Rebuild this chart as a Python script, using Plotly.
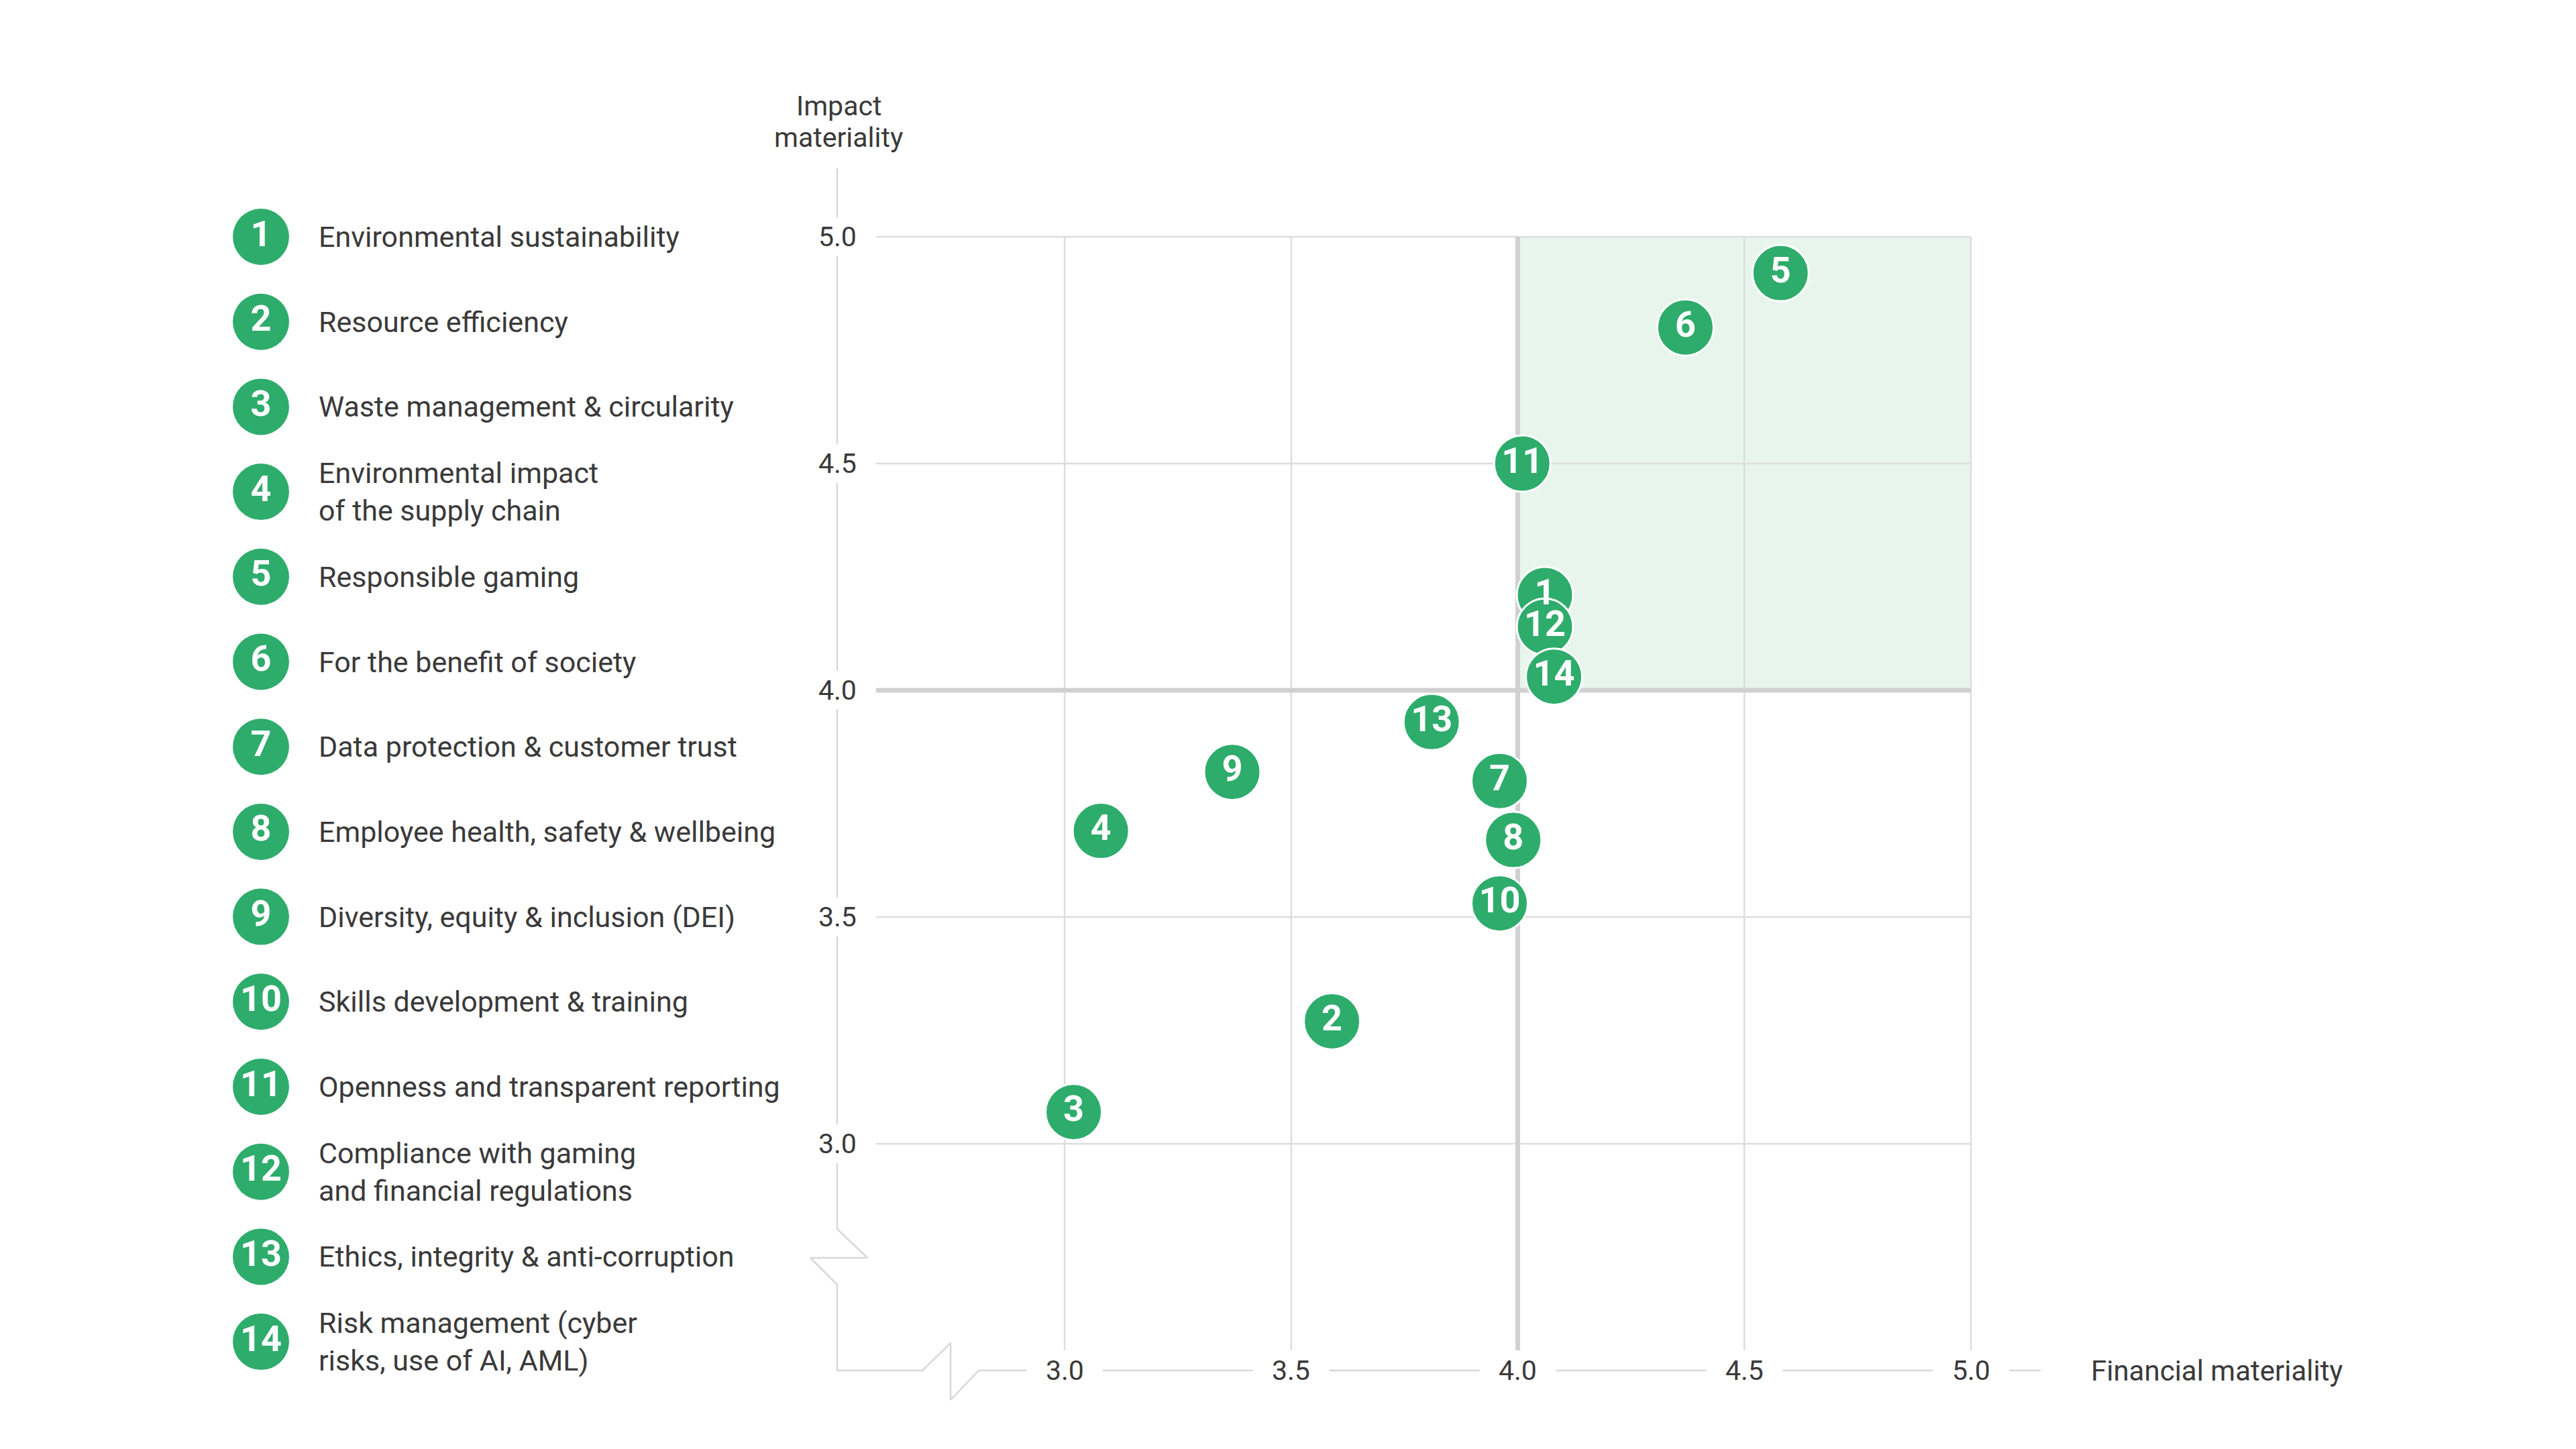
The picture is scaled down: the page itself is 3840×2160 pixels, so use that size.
import plotly.graph_objects as go

# ---------------- data ----------------
topic_ids = list(range(1, 15))
topic_labels = [
    "Environmental sustainability",
    "Resource efficiency",
    "Waste management & circularity",
    "Environmental impact<br>of the supply chain",
    "Responsible gaming",
    "For the benefit of society",
    "Data protection & customer trust",
    "Employee health, safety & wellbeing",
    "Diversity, equity & inclusion (DEI)",
    "Skills development & training",
    "Openness and transparent reporting",
    "Compliance with gaming<br>and financial regulations",
    "Ethics, integrity & anti-corruption",
    "Risk management (cyber<br>risks, use of AI, AML)",
]
financial_materiality = [4.06, 3.59, 3.02, 3.08, 4.58, 4.37, 3.96, 3.99, 3.37, 3.96, 4.01, 4.06, 3.81, 4.08]
impact_materiality = [4.21, 3.27, 3.07, 3.69, 4.92, 4.80, 3.80, 3.67, 3.82, 3.53, 4.50, 4.14, 3.93, 4.03]
tick_values = [3.0, 3.5, 4.0, 4.5, 5.0]
tick_labels = ["3.0", "3.5", "4.0", "4.5", "5.0"]
x_title = "Financial materiality"
y_title_lines = ["Impact", "materiality"]

# ---------------- layout helpers ----------------
W, H = 3840, 2160
PX_X3, PX_PER_X = 1587.0, 675.5
PX_Y3, PX_PER_Y = 1705.0, 676.0


def dx(px):
    return 3 + (px - PX_X3) / PX_PER_X


def dy(py):
    return 3 + (PX_Y3 - py) / PX_PER_Y


def pxx(v):
    return PX_X3 + (v - 3) * PX_PER_X


def pxy(v):
    return PX_Y3 - (v - 3) * PX_PER_Y


GREEN = "#2eac6c"
TEXT = "#3a3a3a"
GRID = "#dddddd"
THICK = "#d0d0d0"
AXIS = "#d8d8d8"
FONT = "Roboto"

fig = go.Figure()

shapes = []
# highlighted quadrant
shapes.append(dict(type="rect", xref="x", yref="y", x0=4, x1=5, y0=4, y1=5,
                   fillcolor="#e8f5ed", line=dict(width=0), layer="below"))
grid_bottom = dy(2013)
grid_left = dx(1306)
for t in tick_values:
    if t == 4.0:
        continue
    shapes.append(dict(type="line", xref="x", yref="y", x0=t, x1=t, y0=grid_bottom, y1=5,
                       line=dict(color=GRID, width=2.5), layer="below"))
    shapes.append(dict(type="line", xref="x", yref="y", x0=grid_left, x1=5, y0=t, y1=t,
                       line=dict(color=GRID, width=2.5), layer="below"))
# threshold lines
shapes.append(dict(type="line", xref="x", yref="y", x0=4, x1=4, y0=grid_bottom, y1=5,
                   line=dict(color=THICK, width=7), layer="below"))
shapes.append(dict(type="line", xref="x", yref="y", x0=grid_left, x1=5, y0=4, y1=4,
                   line=dict(color=THICK, width=7), layer="below"))

# axis lines with gaps around tick labels and break symbols
AX_X = 1248.0
AX_Y = 2043.0
ax_x, ax_y = [], []
ygap = 29
seg_start = 251.0
for t in sorted(tick_values, reverse=True):
    c = pxy(t)
    ax_x += [AX_X, AX_X, None]
    ax_y += [seg_start, c - ygap, None]
    seg_start = c + ygap
brk = [(AX_X, seg_start), (AX_X, 1832), (1293, 1875), (1208, 1875), (AX_X, 1915), (AX_X, AX_Y),
       (1375, AX_Y), (1417, 2002), (1417, 2087), (1459, AX_Y)]
for (px_, py_) in brk:
    ax_x.append(px_)
    ax_y.append(py_)
xgap = 57
for t in tick_values:
    c = pxx(t)
    ax_x += [c - xgap, None, c + xgap]
    ax_y += [AX_Y, None, AX_Y]
ax_x += [3042]
ax_y += [AX_Y]
fig.add_trace(go.Scatter(
    x=[dx(v) if v is not None else None for v in ax_x],
    y=[dy(v) if v is not None else None for v in ax_y],
    mode="lines", line=dict(color=AXIS, width=2.5), hoverinfo="skip", showlegend=False,
    connectgaps=False))

# data points
fig.add_trace(go.Scatter(
    x=financial_materiality, y=impact_materiality, mode="markers+text",
    text=[str(i) for i in topic_ids], textposition="middle center",
    textfont=dict(family=FONT, size=54, color="white", weight="bold"),
    marker=dict(size=84, color=GREEN, line=dict(color="white", width=3)),
    cliponaxis=False, hoverinfo="skip", showlegend=False))

# legend column
ROW0, ROW_STEP = 353.0, 126.7
legend_y = [dy(ROW0 + i * ROW_STEP) for i in range(len(topic_ids))]
fig.add_trace(go.Scatter(
    x=[dx(389)] * len(topic_ids), y=legend_y, mode="markers+text",
    text=[str(i) for i in topic_ids], textposition="middle center",
    textfont=dict(family=FONT, size=54, color="white", weight="bold"),
    marker=dict(size=84, color=GREEN, line=dict(width=0)),
    cliponaxis=False, hoverinfo="skip", showlegend=False))

annotations = []
for lab, yv in zip(topic_labels, legend_y):
    annotations.append(dict(x=dx(473), y=yv, xref="x", yref="y", text=lab, showarrow=False,
                            xanchor="left", yanchor="middle", align="left",
                            font=dict(family=FONT, size=43, color=TEXT)))
for t, lab in zip(tick_values, tick_labels):
    annotations.append(dict(x=dx(AX_X), y=t, xref="x", yref="y", text=lab, showarrow=False,
                            xanchor="center", yanchor="middle",
                            font=dict(family=FONT, size=41, color=TEXT)))
    annotations.append(dict(x=t, y=dy(AX_Y), xref="x", yref="y", text=lab, showarrow=False,
                            xanchor="center", yanchor="middle",
                            font=dict(family=FONT, size=41, color=TEXT)))
annotations.append(dict(x=dx(3115), y=dy(AX_Y), xref="x", yref="y", text=x_title, showarrow=False,
                        xanchor="left", yanchor="middle",
                        font=dict(family=FONT, size=42, color=TEXT)))
for k, line in enumerate(y_title_lines):
    annotations.append(dict(x=dx(1250), y=dy(158 + k * 47), xref="x", yref="y", text=line,
                            showarrow=False, xanchor="center", yanchor="middle",
                            font=dict(family=FONT, size=41, color=TEXT)))

fig.update_layout(
    width=W, height=H, margin=dict(l=0, r=0, t=0, b=0),
    paper_bgcolor="white", plot_bgcolor="white",
    xaxis=dict(range=[dx(0), dx(W)], visible=False, fixedrange=True),
    yaxis=dict(range=[dy(H), dy(0)], visible=False, fixedrange=True),
    shapes=shapes, annotations=annotations, showlegend=False,
)

fig.write_html("out.html")
